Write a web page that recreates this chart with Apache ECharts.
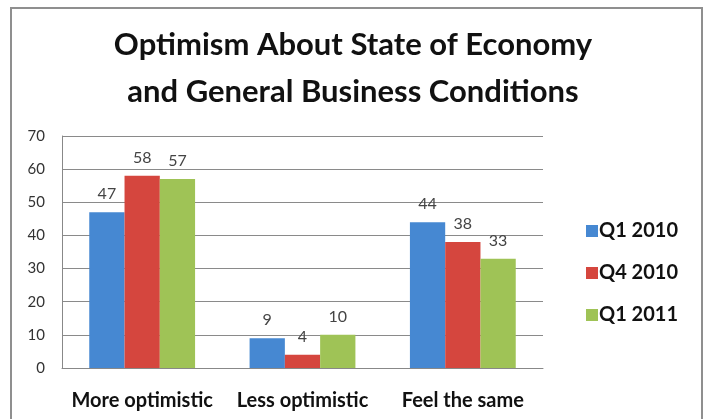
<!DOCTYPE html>
<html>
<head>
<meta charset="utf-8">
<script src="https://cdn.jsdelivr.net/npm/echarts@6/dist/echarts.min.js"></script>
<style>
html,body{margin:0;padding:0;background:#fff;}
#c{width:706px;height:419px;}
</style>
</head>
<body>
<div id="c"></div>
<script>
const titleText = "Optimism About State of Economy\nand General Business Conditions";
const categories = ["More optimistic", "Less optimistic", "Feel the same"];
const seriesNames = ["Q1 2010", "Q4 2010", "Q1 2011"];
const q1_2010 = [47, 9, 44];
const q4_2010 = [58, 4, 38];
const q1_2011 = [57, 10, 33];
const yTicks = [0, 10, 20, 30, 40, 50, 60, 70];

const colors = ["#4688d2", "#d5463e", "#9fc356"];
const values = [q1_2010, q4_2010, q1_2011];

const chart = echarts.init(document.getElementById('c'), null, {renderer: 'canvas'});
chart.setOption({
  backgroundColor: '#fff',
  animation: false,
  title: {
    text: titleText,
    left: 'center',
    top: 16,
    textStyle: {fontFamily: 'Lato', fontWeight: 'bold', fontSize: 31, lineHeight: 47, color: '#111'}
  },
  graphic: [{
    type: 'rect', shape: {x: 11, y: 8, width: 691, height: 420},
    style: {fill: 'none', stroke: '#8f8f8f', lineWidth: 2}, silent: true, z: -1
  }],
  legend: {
    orient: 'vertical',
    left: 581,
    top: 216,
    itemWidth: 12,
    itemHeight: 12,
    itemGap: 22,
    icon: 'rect',
    textStyle: {fontFamily: 'Lato', fontWeight: 'bold', fontSize: 20, color: '#111', padding: [0,0,0,-4]},
    data: seriesNames
  },
  grid: {left: 62, right: 163, top: 136, bottom: 51, containLabel: false},
  xAxis: {
    type: 'category',
    data: categories,
    axisTick: {show: false},
    axisLine: {lineStyle: {color: '#888', width: 1}},
    axisLabel: {interval: 0, hideOverlap: false, fontFamily: 'Lato', fontWeight: 'bold', fontSize: 20, color: '#111', margin: 23}
  },
  yAxis: {
    type: 'value',
    min: yTicks[0], max: yTicks[yTicks.length - 1], interval: 10,
    axisLine: {show: true, lineStyle: {color: '#888'}},
    axisTick: {show: false},
    splitLine: {lineStyle: {color: '#8a8a8a', width: 1}},
    axisLabel: {fontFamily: 'Lato', fontSize: 15, color: '#333', margin: 17}
  },
  series: seriesNames.map((n, i) => ({
    name: n,
    type: 'bar',
    data: values[i],
    barGap: '0%',
    barCategoryGap: '34%',
    itemStyle: {color: colors[i]},
    label: {show: true, position: 'top', distance: 10, fontFamily: 'Lato', fontSize: 16, color: '#444'}
  }))
});
</script>
</body>
</html>
